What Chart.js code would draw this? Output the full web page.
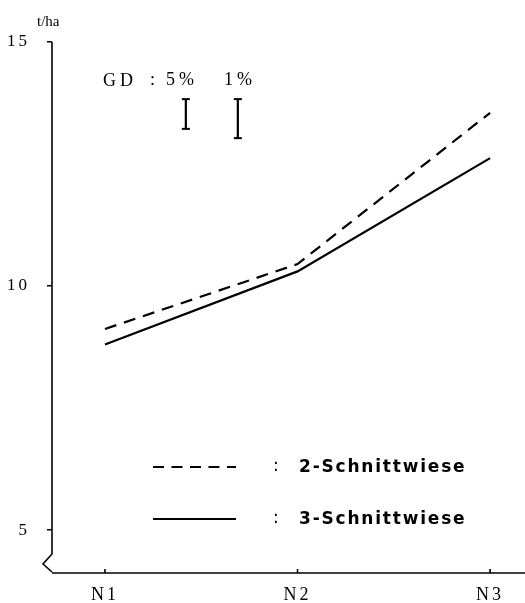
<!DOCTYPE html>
<html>
<head>
<meta charset="utf-8">
<script src="https://cdn.jsdelivr.net/npm/chart.js@4/dist/chart.umd.min.js"></script>
<style>
html,body{margin:0;padding:0;background:#fff;}
#wrap{width:525px;height:603px;position:relative;}
</style>
</head>
<body>
<div id="wrap"><canvas id="c" width="525" height="603"></canvas></div>
<script>
// ---- data ----
const categories = ['N1', 'N2', 'N3'];
const seriesNames = ['2-Schnittwiese', '3-Schnittwiese'];
const zweiSchnitt = [9.12, 10.45, 13.55];
const dreiSchnitt = [8.8, 10.3, 12.62];
const yTicks = [5, 10, 15];
const yUnit = 't/ha';
const gdLabel = 'GD';
const gdLevels = ['5%', '1%'];
const gdTop = [13.83, 13.83];
const gdBottom = [13.22, 13.03];
const gdX = [1.42, 1.69];

const toXY = vals => vals.map((v, i) => ({x: i + 1, y: v}));

const SERIF = '"Liberation Serif", "DejaVu Serif", serif';
const SANS = '"DejaVu Sans", sans-serif';

const decor = {
  id: 'decor',
  beforeDraw(chart) {
    chart.ctx.letterSpacing = '3px';
  },
  afterDraw(chart) {
    const ctx = chart.ctx;
    const xs = chart.scales.x, ys = chart.scales.y;
    const ax = chart.chartArea.left;
    const bottom = chart.chartArea.bottom;
    ctx.save();
    ctx.letterSpacing = '0px';
    ctx.strokeStyle = '#000';
    ctx.fillStyle = '#000';
    ctx.lineWidth = 1.6;
    // x axis
    ctx.beginPath();
    ctx.moveTo(ax, bottom);
    ctx.lineTo(chart.width, bottom);
    ctx.stroke();
    // y axis with break
    ctx.beginPath();
    ctx.moveTo(ax, ys.getPixelForValue(15));
    ctx.lineTo(ax, bottom - 19);
    ctx.lineTo(ax - 9, bottom - 9);
    ctx.lineTo(ax, bottom - 1);
    ctx.stroke();
    // x ticks (upward)
    categories.forEach((c, i) => {
      const px = xs.getPixelForValue(i + 1);
      ctx.beginPath();
      ctx.moveTo(px, bottom);
      ctx.lineTo(px, bottom - 4);
      ctx.stroke();
    });
    // unit
    ctx.font = '15px ' + SERIF;
    ctx.textBaseline = 'middle';
    ctx.textAlign = 'left';
    ctx.fillText(yUnit, 37, 22);
    // GD text
    ctx.font = '18px ' + SERIF;
    ctx.letterSpacing = '4px';
    ctx.fillText(gdLabel, 103, 81);
    ctx.fillText(':', 150, 80);
    ctx.fillText(gdLevels[0], 166, 80);
    ctx.fillText(gdLevels[1], 224, 80);
    // legend
    const lx1 = 153, lx2 = 236;
    const rows = [467, 519];
    ctx.lineWidth = 2;
    ctx.setLineDash([11, 7.5]);
    ctx.beginPath(); ctx.moveTo(lx1, rows[0]); ctx.lineTo(lx2, rows[0]); ctx.stroke();
    ctx.setLineDash([]);
    ctx.beginPath(); ctx.moveTo(lx1, rows[1]); ctx.lineTo(lx2, rows[1]); ctx.stroke();
    seriesNames.forEach((n, i) => {
      ctx.letterSpacing = '0px';
      ctx.font = '17px ' + SANS;
      ctx.fillText(':', 273, rows[i]);
      ctx.font = '600 17px ' + SANS;
      ctx.letterSpacing = '1.8px';
      ctx.fillText(n, 299, rows[i] + 1);
    });
    ctx.restore();
  }
};

new Chart(document.getElementById('c'), {
  type: 'line',
  data: {
    datasets: [
      {
        label: seriesNames[0],
        data: toXY(zweiSchnitt),
        borderColor: '#000', borderWidth: 2.2, borderDash: [12, 8],
        pointRadius: 0, fill: false, tension: 0
      },
      {
        label: seriesNames[1],
        data: toXY(dreiSchnitt),
        borderColor: '#000', borderWidth: 2.2,
        pointRadius: 0, fill: false, tension: 0
      },
      ...gdLevels.map((g, i) => ({
        label: 'GD ' + g,
        data: [{x: gdX[i], y: gdTop[i]}, {x: gdX[i], y: gdBottom[i]}],
        borderColor: '#000', borderWidth: 2.2,
        pointStyle: 'line', pointRadius: 4, pointBorderWidth: 2,
        pointBorderColor: '#000', fill: false
      }))
    ]
  },
  options: {
    responsive: false,
    animation: false,
    layout: {padding: {top: 42, right: 0, left: 0, bottom: 0}},
    plugins: {legend: {display: false}, tooltip: {enabled: false}},
    scales: {
      x: {
        type: 'linear', min: 0.725, max: 3.15,
        afterBuildTicks: s => { s.ticks = categories.map((c, i) => ({value: i + 1})); },
        afterFit: s => { s.height = 30; },
        ticks: {
          callback: (v) => categories[v - 1] || '',
          color: '#000', font: {family: SERIF, size: 18}, padding: 11, maxRotation: 0, autoSkip: false
        },
        grid: {display: false, drawTicks: false},
        border: {display: false}
      },
      y: {
        min: 4.12, max: 15,
        afterBuildTicks: s => { s.ticks = yTicks.map(v => ({value: v})); },
        afterFit: s => { s.width = 52; },
        ticks: {color: '#000', font: {family: SERIF, size: 17}, padding: 17},
        grid: {display: true, drawOnChartArea: false, drawTicks: true, tickLength: 5, color: '#000', lineWidth: 1.5},
        border: {display: false}
      }
    }
  },
  plugins: [decor]
});
</script>
</body>
</html>
